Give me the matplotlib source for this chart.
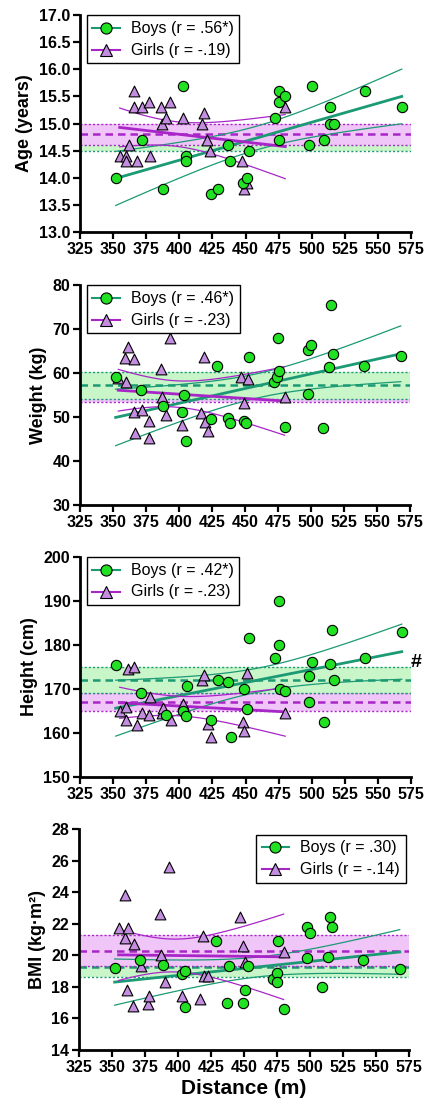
import numpy as np
import matplotlib.pyplot as plt
from matplotlib.lines import Line2D

plt.rcParams['font.family'] = ['Liberation Sans', 'DejaVu Sans']

# ---- data: distance (m) and value, boys / girls, per panel ----
age_boys_x = [352, 372, 388, 403, 405, 405, 424, 429, 437, 438, 448, 451, 453, 472, 475, 475, 475, 480, 498, 500, 509, 514, 514, 517, 540, 568]
age_boys_y = [14.0, 14.7, 13.8, 15.7, 14.4, 14.3, 13.7, 13.8, 14.6, 14.3, 13.9, 14.0, 14.5, 15.1, 15.6, 15.4, 14.7, 15.5, 14.6, 15.7, 14.7, 15.3, 15.0, 15.0, 15.6, 15.3]
age_girls_x = [355, 360, 360, 362, 366, 366, 368, 372, 377, 378, 386, 387, 390, 393, 403, 417, 419, 421, 423, 447, 449, 451, 480]
age_girls_y = [14.4, 14.4, 14.3, 14.6, 15.6, 15.3, 14.3, 15.3, 15.4, 14.4, 15.3, 15.0, 15.1, 15.4, 15.1, 15.0, 15.2, 14.7, 14.5, 14.3, 13.8, 13.9, 15.3]

weight_boys_x = [352, 371, 388, 402, 404, 405, 424, 429, 437, 439, 449, 451, 453, 472, 474, 475, 476, 480, 498, 498, 500, 509, 514, 515, 517, 540, 568]
weight_boys_y = [59.2, 56.1, 52.5, 51.1, 55.0, 44.6, 49.5, 61.7, 49.7, 48.7, 49.2, 48.6, 63.6, 58.0, 59.2, 68.0, 60.5, 47.8, 65.2, 55.2, 66.3, 47.5, 61.4, 75.5, 64.4, 61.7, 63.8]
weight_girls_x = [354, 359, 360, 361, 366, 366, 367, 372, 377, 377, 386, 387, 390, 393, 402, 417, 419, 420, 422, 447, 449, 452, 480]
weight_girls_y = [58.9, 63.3, 58.0, 66.0, 51.2, 63.1, 46.4, 51.6, 49.0, 45.3, 61.0, 54.6, 50.5, 68.0, 48.2, 50.8, 63.6, 48.9, 46.9, 59.2, 53.1, 58.7, 54.6]

height_boys_x = [352, 371, 390, 403, 405, 406, 424, 429, 437, 439, 449, 451, 453, 472, 475, 475, 476, 480, 498, 498, 500, 509, 514, 515, 517, 540, 568]
height_boys_y = [175.5, 169.1, 164.0, 165.1, 163.9, 170.6, 163.0, 172.0, 171.5, 159.0, 170.0, 165.5, 181.5, 177.0, 190.1, 180.0, 170.0, 169.6, 173.0, 167.0, 176.2, 162.4, 175.7, 183.5, 172.0, 177.0, 183.0]
height_girls_x = [355, 360, 360, 361, 366, 368, 372, 377, 378, 387, 388, 394, 403, 417, 419, 422, 424, 448, 449, 451, 480]
height_girls_y = [165.1, 165.9, 163.0, 174.5, 174.9, 161.9, 164.5, 164.0, 168.1, 164.5, 165.7, 163.0, 166.6, 172.0, 173.2, 162.0, 159.0, 162.5, 160.5, 173.6, 164.5]

bmi_boys_x = [352, 371, 389, 403, 405, 405, 429, 437, 439, 449, 451, 453, 472, 475, 475, 476, 480, 498, 498, 500, 509, 514, 515, 517, 540, 568]
bmi_boys_y = [19.2, 19.7, 19.4, 18.8, 19.0, 16.7, 20.9, 17.0, 19.3, 17.0, 17.8, 19.3, 18.5, 18.9, 18.3, 20.9, 16.6, 21.8, 19.8, 21.4, 18.0, 19.9, 22.4, 21.8, 19.7, 19.1]
bmi_girls_x = [355, 360, 360, 361, 362, 366, 367, 372, 377, 378, 386, 387, 390, 393, 403, 417, 419, 420, 423, 447, 449, 451, 480]
bmi_girls_y = [21.7, 23.8, 21.1, 17.8, 21.7, 16.8, 20.7, 19.3, 16.9, 17.4, 22.6, 20.0, 18.3, 25.6, 17.4, 17.2, 21.2, 18.7, 18.7, 22.4, 20.6, 19.6, 20.2]

# group mean and band (low, mean, high) as drawn
age_boys_band = [14.5, 14.7, 14.9]
age_girls_band = [14.6, 14.8, 15.0]
weight_boys_band = [54.2, 57.2, 60.2]
weight_girls_band = [53.5, 56.6, 59.8]
height_boys_band = [169.1, 172.1, 175.0]
height_girls_band = [165.1, 167.0, 169.0]
bmi_boys_band = [18.6, 19.25, 19.9]
bmi_girls_band = [19.3, 20.3, 21.3]

boys_r = ['.56*', '.46*', '.42*', '.30']
girls_r = ['-.19', '-.23', '-.23', '-.14']
ylabels = ['Age (years)', 'Weight (kg)', 'Height (cm)', 'BMI (kg\u00b7m\u00b2)']

# colours
boy_fill = '#22e022'
boy_line = '#1b9a74'
boy_band = '#c8f6c8'
girl_fill = '#c48ee0'
girl_line = '#a826c8'
girl_band = '#f0c6f8'

T95 = {19: 2.093, 20: 2.086, 21: 2.080, 22: 2.074, 23: 2.069, 24: 2.064, 25: 2.060, 26: 2.056}


def reg_ci(x, y):
	x = np.asarray(x, float)
	y = np.asarray(y, float)
	n = len(x)
	b, a = np.polyfit(x, y, 1)
	xs = np.linspace(x.min(), x.max(), 60)
	yh = a + b * xs
	s = np.sqrt(np.sum((y - (a + b * x)) ** 2) / (n - 2))
	se = s * np.sqrt(1.0 / n + (xs - x.mean()) ** 2 / np.sum((x - x.mean()) ** 2))
	t = T95[n - 2]
	return xs, yh, yh - t * se, yh + t * se


def draw_band(ax, band, fill, line, z):
	ax.axhspan(band[0], band[2], color=fill, lw=0, zorder=z)
	ax.axhline(band[1], color=line, lw=1.8, ls=(0, (3, 2)), zorder=z + 0.2)
	ax.axhline(band[0], color=line, lw=1.0, ls=(0, (1.5, 1.5)), zorder=z + 0.2)
	ax.axhline(band[2], color=line, lw=1.0, ls=(0, (1.5, 1.5)), zorder=z + 0.2)


def panel(ax, bx, by, gx, gy, bband, gband, boys_top, ylim, yticks, fmt, ylabel, rb, rg, legloc):
	zb, zg = (1.5, 1.0) if boys_top else (1.0, 1.5)
	draw_band(ax, bband, boy_band, boy_line, zb)
	draw_band(ax, gband, girl_band, girl_line, zg)

	for x, y, col in [(bx, by, boy_line), (gx, gy, girl_line)]:
		xs, yh, lo, hi = reg_ci(x, y)
		ax.plot(xs, yh, color=col, lw=2.0, zorder=3)
		ax.plot(xs, lo, color=col, lw=0.9, zorder=3)
		ax.plot(xs, hi, color=col, lw=0.9, zorder=3)

	ax.scatter(gx, gy, marker='^', s=60, c=girl_fill, edgecolors='black', linewidths=0.8, zorder=4)
	ax.scatter(bx, by, marker='o', s=55, c=boy_fill, edgecolors='black', linewidths=0.8, zorder=5)

	ax.set_xlim(325, 575)
	ax.set_xticks(np.arange(325, 576, 25))
	ax.set_ylim(*ylim)
	ax.set_yticks(yticks)
	ax.set_yticklabels([fmt % v for v in yticks])
	ax.set_ylabel(ylabel, fontsize=13, fontweight='bold', labelpad=4)

	for sp in ['top', 'right']:
		ax.spines[sp].set_visible(False)
	for sp in ['left', 'bottom']:
		ax.spines[sp].set_linewidth(2.0)
	ax.tick_params(direction='out', length=5, width=1.6, labelsize=11.5, pad=2)
	for lab in ax.get_xticklabels() + ax.get_yticklabels():
		lab.set_fontweight('bold')

	h = [Line2D([], [], color=boy_line, lw=1.5, marker='o', ms=8, mfc=boy_fill, mec='black', mew=0.8),
		Line2D([], [], color=girl_line, lw=1.5, marker='^', ms=8, mfc=girl_fill, mec='black', mew=0.8)]
	labels = ['Boys (r = %s)' % rb, 'Girls (r = %s)' % rg]
	if legloc == 'left':
		leg = ax.legend(h, labels, loc='upper left', bbox_to_anchor=(0.02, 1.0), borderaxespad=0)
	else:
		leg = ax.legend(h, labels, loc='upper right', bbox_to_anchor=(0.99, 0.975), borderaxespad=0)
	leg.get_frame().set_edgecolor('black')
	leg.get_frame().set_linewidth(1.0)
	leg.get_frame().set_boxstyle('square', pad=0)
	leg.get_frame().set_alpha(1)
	for t in leg.get_texts():
		t.set_fontsize(11.5)
	leg.set_zorder(10)


fig = plt.figure(figsize=(4.24, 11.11), dpi=100)

ax1 = fig.add_axes([80 / 424, 1 - 232 / 1111, 331 / 424, 217 / 1111])
panel(ax1, age_boys_x, age_boys_y, age_girls_x, age_girls_y, age_boys_band, age_girls_band, False,
	(13, 17), np.arange(13, 17.01, 0.5), '%.1f', ylabels[0], boys_r[0], girls_r[0], 'left')

ax2 = fig.add_axes([80 / 424, 1 - 505 / 1111, 330 / 424, 220 / 1111])
panel(ax2, weight_boys_x, weight_boys_y, weight_girls_x, weight_girls_y, weight_boys_band, weight_girls_band, True,
	(30, 80), np.arange(30, 81, 10), '%d', ylabels[1], boys_r[1], girls_r[1], 'left')

ax3 = fig.add_axes([80 / 424, 1 - 777 / 1111, 331 / 424, 220 / 1111])
panel(ax3, height_boys_x, height_boys_y, height_girls_x, height_girls_y, height_boys_band, height_girls_band, True,
	(150, 200), np.arange(150, 201, 10), '%d', ylabels[2], boys_r[2], girls_r[2], 'left')
ax3.text(1.033, 0.52, '#', transform=ax3.transAxes, fontsize=14, fontweight='bold', va='center', ha='right')

ax4 = fig.add_axes([79 / 424, 1 - 1050 / 1111, 330 / 424, 221 / 1111])
panel(ax4, bmi_boys_x, bmi_boys_y, bmi_girls_x, bmi_girls_y, bmi_boys_band, bmi_girls_band, False,
	(14, 28), np.arange(14, 29, 2), '%d', ylabels[3], boys_r[3], girls_r[3], 'right')
ax4.set_xlabel('Distance (m)', fontsize=15, fontweight='bold', labelpad=3)

plt.savefig('out.png', dpi=100)
